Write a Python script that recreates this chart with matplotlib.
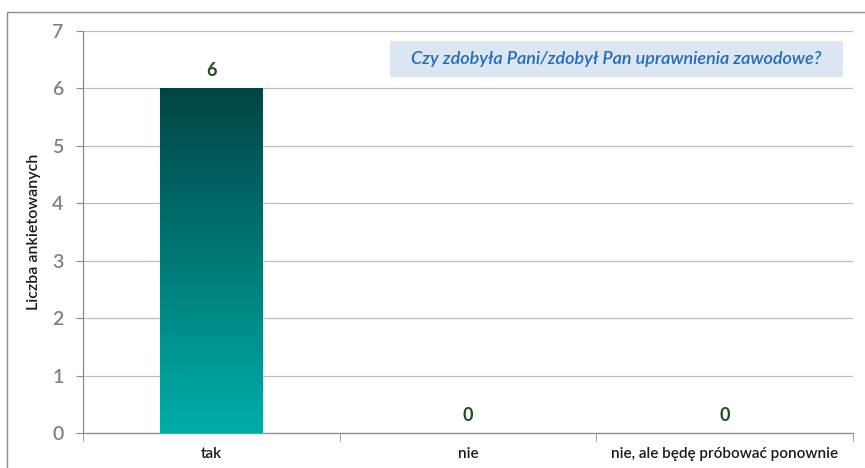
import matplotlib
matplotlib.use('Agg')

import matplotlib.pyplot as plt
import numpy as np
from matplotlib.patches import Rectangle
from matplotlib.colors import LinearSegmentedColormap

categories = ['tak', 'nie', 'nie, ale będę próbować ponownie']
counts = [6, 0, 0]
y_ticks = [0, 1, 2, 3, 4, 5, 6, 7]
title = 'Czy zdobyła Pani/zdobył Pan uprawnienia zawodowe?'
y_label = 'Liczba ankietowanych'

plt.rcParams['font.family'] = ['Lato', 'DejaVu Sans']

fig = plt.figure(figsize=(8.65, 4.68), dpi=100)
ax = fig.add_axes([0.096, 0.0748, 0.890, 0.859])

# outer frame of the chart area (runs off the right and bottom edge)
fig.patches.append(Rectangle((7 / 865, -0.1), 1.2, 1 - 12 / 468 + 0.1,
                             transform=fig.transFigure, fill=False,
                             edgecolor='#8c8c8c', linewidth=1.0))

x = np.arange(len(categories))
bars = ax.bar(x, counts, width=0.4, color='none', edgecolor='none', zorder=3)

# vertical gradient inside each bar
cmap = LinearSegmentedColormap.from_list('teal', ['#00aea9', '#004545'])
grad = np.linspace(0, 1, 256).reshape(-1, 1)
for b in bars:
    if b.get_height() <= 0:
        continue
    x0, y0 = b.get_x(), b.get_y()
    img = ax.imshow(grad, cmap=cmap, origin='lower', aspect='auto',
                    extent=(x0, x0 + b.get_width(), y0, y0 + b.get_height()),
                    zorder=3)
    img.set_clip_path(b)

for xi, v in zip(x, counts):
    ax.text(xi, v + 0.16, str(v), ha='center', va='bottom', fontsize=13,
            fontweight='bold', color='#1d4d1d', zorder=4)

ax.set_xlim(-0.5, len(categories) - 0.5)
ax.set_ylim(0, 7)
ax.set_yticks(y_ticks)
ax.yaxis.grid(True, color='#bdbdbd', linewidth=0.9)
ax.set_axisbelow(True)

ax.set_xticks(x)
ax.set_xticklabels(categories, fontsize=11, color='#1a1a1a', fontweight='semibold')
ax.set_xticks(np.arange(len(categories) + 1) - 0.5, minor=True)
ax.tick_params(axis='x', which='major', length=0, pad=10)
ax.tick_params(axis='x', which='minor', length=6, color='#8c8c8c', direction='out')
ax.tick_params(axis='y', length=5, color='#8c8c8c', labelsize=14,
               labelcolor='#808080', pad=9)
for lbl in ax.get_yticklabels():
    lbl.set_fontweight('semibold')

for s in ['top', 'right']:
    ax.spines[s].set_visible(False)
for s in ['left', 'bottom']:
    ax.spines[s].set_color('#8c8c8c')
    ax.spines[s].set_linewidth(0.9)

ax.set_ylabel(y_label, fontsize=11.5, color='#1a1a1a', labelpad=8,
              fontweight='semibold')

# title box in the upper right
ax.add_patch(Rectangle((0.399, 0.886), 0.588, 0.089, transform=ax.transAxes,
                       facecolor='#dce6f2', edgecolor='none', zorder=4))
ax.text(0.693, 0.930, title, transform=ax.transAxes, ha='center', va='center',
        fontsize=13, style='italic', fontweight='semibold', color='#1f6bbf',
        zorder=5)

plt.savefig('out.png', dpi=100)
